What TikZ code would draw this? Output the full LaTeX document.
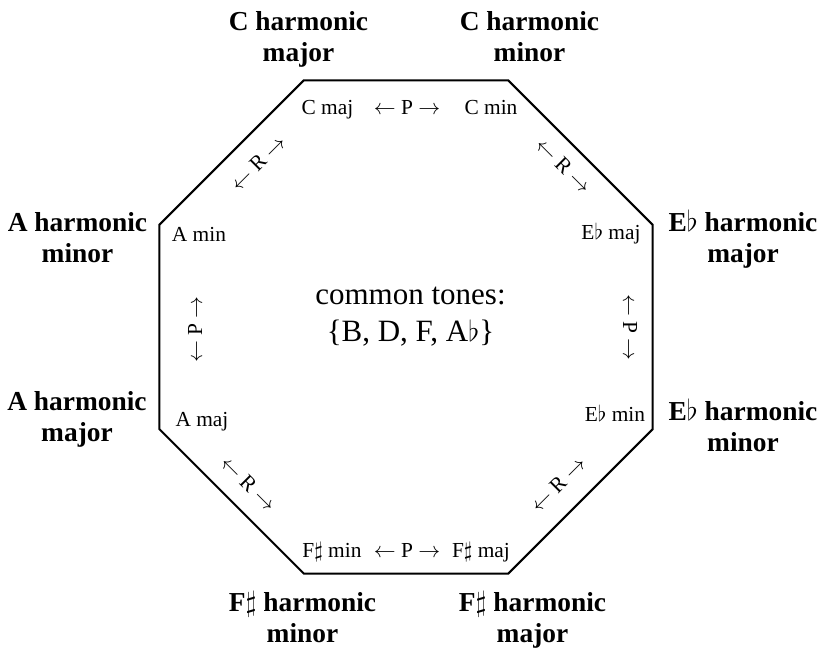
\documentclass[tikz,border=0pt]{standalone}
\usepackage{fontspec}
\setmainfont{Liberation Serif}
\usetikzlibrary{positioning}
\usetikzlibrary{calc}

\begin{document}
\begin{tikzpicture}[
    x=1pt, y=1pt,
    chord/.style={font=\fontsize{10.7}{13}\selectfont, anchor=base, inner sep=0pt},
    rel/.style={font=\fontsize{10.7}{13}\selectfont, inner sep=0pt},
    harm/.style={font=\fontsize{13.7}{15.5}\selectfont\bfseries, align=center, anchor=base, inner sep=0pt},
    edge/.style={line width=1pt, line join=miter}
]
    \useasboundingbox (-203,-164.5) rectangle (208.5,163.5);

    % octagon corners
    \foreach \i in {1,...,8}
        \coordinate (v\i) at ({22.5+45*(\i-1)}:133.5);
    \draw[edge] (v1) -- (v2) -- (v3) -- (v4) -- (v5) -- (v6) -- (v7) -- (v8) -- cycle;

    % chords inside
    \node[chord] (cmaj) at (-39.25,106.3) {C maj};
    \node[chord] (cmin) at (42.5,106.3) {C min};
    \node[chord] (amin) at (-103.5,42.5) {A min};
    \node[chord] (ebmaj) at (102.5,43.5) {E$\flat$ maj};
    \node[chord] (amaj) at (-102,-50) {A maj};
    \node[chord] (ebmin) at (104.5,-47.5) {E$\flat$ min};
    \node[chord] (fsmin) at (-37,-115.5) {F$\sharp$ min};
    \node[chord] (fsmaj) at (37.5,-115.5) {F$\sharp$ maj};

    % P and R moves
    \node[rel, anchor=base] (ptop) at (0.5,106.3) {$\leftarrow$ P $\rightarrow$};
    \node[rel, anchor=base] (pbot) at (0.5,-115.5) {$\leftarrow$ P $\rightarrow$};
    \node[rel, rotate=90] (pleft) at (-105.5,-1.25) {$\leftarrow$ P $\rightarrow$};
    \node[rel, rotate=-90] (pright) at (112,-0.25) {$\leftarrow$ P $\rightarrow$};
    \node[rel, rotate=45] (rul) at (-74,82) {$\leftarrow$ R $\rightarrow$};
    \node[rel, rotate=-45] (rur) at (78.75,80.5) {$\leftarrow$ R $\rightarrow$};
    \node[rel, rotate=-45] (rll) at (-78.75,-78.5) {$\leftarrow$ R $\rightarrow$};
    \node[rel, rotate=45] (rlr) at (76,-78.75) {$\leftarrow$ R $\rightarrow$};

    % scales outside (base = last line)
    \node[harm] (hcmaj) at (-53.75,132.5) {C harmonic\\major};
    \node[harm] (hcmin) at (61.75,132.5) {C harmonic\\minor};
    \node[harm] (hamin) at (-164.25,32) {A harmonic\\minor};
    \node[harm] (hamaj) at (-164.5,-57.5) {A harmonic\\major};
    \node[harm] (hebmaj) at (168.5,32) {E$\flat$ harmonic\\major};
    \node[harm] (hebmin) at (168.5,-62.5) {E$\flat$ harmonic\\minor};
    \node[harm] (hfsmin) at (-51.75,-158) {F$\sharp$ harmonic\\minor};
    \node[harm] (hfsmaj) at (63.25,-158) {F$\sharp$ harmonic\\major};

    \node[font=\fontsize{15.5}{18.5}\selectfont, align=center, anchor=base, inner sep=0pt] (common) at (2.25,-7.5)
        {common tones:\\\{B, D, F, A$\flat$\}};
\end{tikzpicture}
\end{document}
